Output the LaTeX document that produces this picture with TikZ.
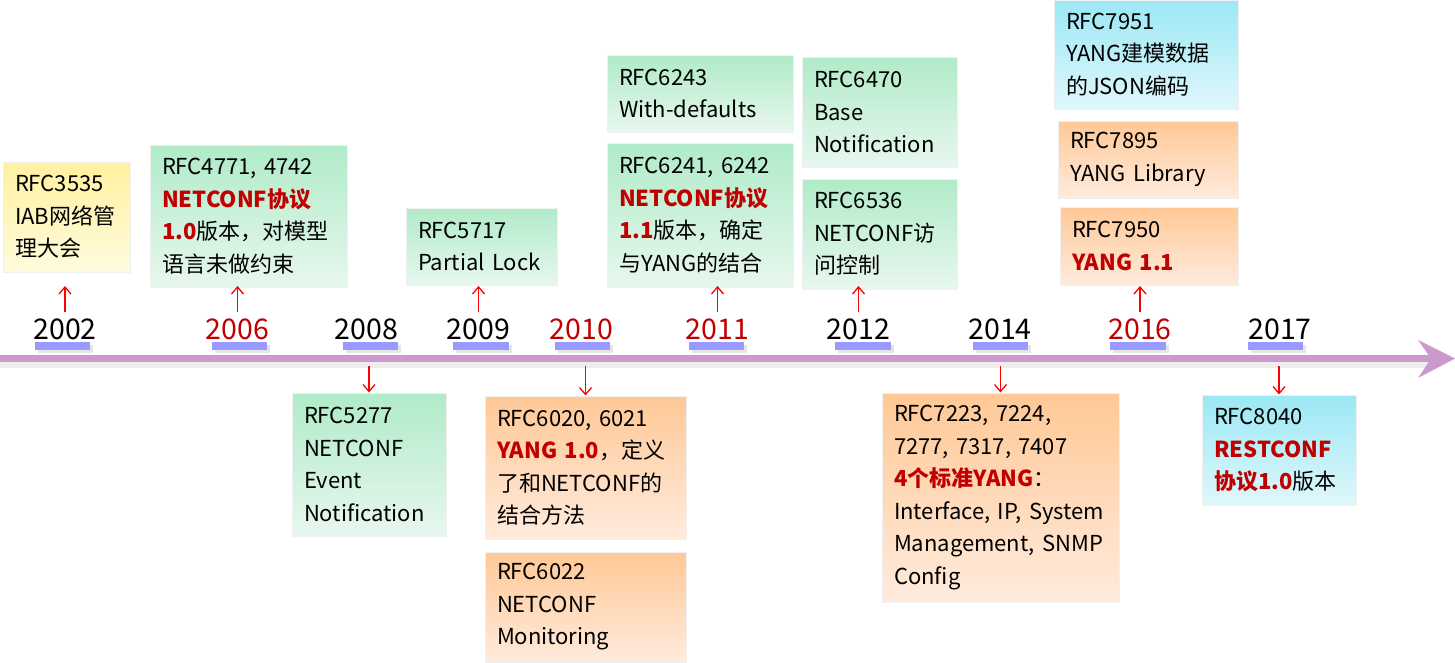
\documentclass[tikz,border=0pt]{standalone}
\usepackage{fontspec}
\setmainfont{Noto Sans CJK SC}
\usetikzlibrary{arrows.meta}
\definecolor{myred}{HTML}{C00000}
\definecolor{tlc}{HTML}{CC99CC}
\definecolor{barc}{HTML}{9999FF}
\definecolor{gtop}{HTML}{B0EBC8}
\definecolor{gbot}{HTML}{E8F7EE}
\definecolor{otop}{HTML}{FFC896}
\definecolor{obot}{HTML}{FFEBDD}
\definecolor{ctop}{HTML}{9BE8F5}
\definecolor{cbot}{HTML}{E0F7FB}
\definecolor{ytop}{HTML}{FFF1A0}
\definecolor{ybot}{HTML}{FFFBDD}
\newcommand\redb[1]{\textbf{\color{myred}#1}}
\tikzset{
  box/.style={draw=black!6, line width=1pt, inner xsep=12pt, inner ysep=0pt, align=left,
    font=\fontsize{22}{32.5}\selectfont, text=black},
  gbox/.style={box, top color=gtop, bottom color=gbot},
  obox/.style={box, top color=otop, bottom color=obot},
  cbox/.style={box, top color=ctop, bottom color=cbot},
  ybox/.style={box, top color=ytop, bottom color=ybot},
  year/.style={anchor=base, inner sep=0pt, font=\fontsize{28.5}{30}\selectfont, text=black},
  ryear/.style={year, text=myred},
  arr/.style={draw=red, line width=1.3pt, -{Straight Barb[length=7pt,width=12pt]}},
}
\begin{document}
\begin{tikzpicture}[x=1pt,y=-1pt]
\useasboundingbox (0,0) rectangle (1455,662);

% timeline
\fill[black!7] (0,362) rectangle (1432,368);
\fill[tlc] (0,355) rectangle (1432,362);
\fill[tlc] (1418,340) -- (1455,358.5) -- (1418,378) -- (1431,358.5) -- cycle;

% year bars
\foreach \a/\b in {35/90,212/267,343/398,453/509,555/610,689/744,835/891,973/1028,1110/1166,1248/1303}{
  \fill[black!10] (\a+3,345) rectangle (\b+3,353);
  \fill[barc] (\a,342) rectangle (\b,350);
}

% years
\node[year]  (y2002) at (65,339) {2002};
\node[ryear] (y2006) at (237.5,339) {2006};
\node[year]  (y2008) at (366.5,339) {2008};
\node[year]  (y2009) at (478.5,339) {2009};
\node[ryear] (y2010) at (581.5,339) {2010};
\node[ryear] (y2011) at (717.5,339) {2011};
\node[year]  (y2012) at (858.5,339) {2012};
\node[year]  (y2014) at (1000,339) {2014};
\node[ryear] (y2016) at (1140,339) {2016};
\node[year]  (y2017) at (1280,339) {2017};

% boxes above
\node[ybox, text width=103pt, minimum height=110pt] (b3535) at (66.5,217)
  {RFC3535\\IAB网络管\\理大会};
\node[gbox, text width=173pt, minimum height=142pt] (b4771) at (248.5,216)
  {RFC4771, 4742\\\redb{NETCONF协议}\\\redb{1.0}版本，对模型\\语言未做约束};
\node[gbox, text width=127pt, minimum height=77pt] (b5717) at (481.5,246.5)
  {RFC5717\\Partial Lock};
\node[gbox, text width=162pt, minimum height=77pt] (b6243) at (700,93.5)
  {RFC6243\\With-defaults};
\node[gbox, text width=162pt, minimum height=144pt] (b6241) at (700,215)
  {RFC6241, 6242\\\redb{NETCONF协议}\\\redb{1.1}版本，确定\\与YANG的结合};
\node[gbox, text width=131pt, minimum height=110pt] (b6470) at (879.5,112)
  {RFC6470\\Base\\Notification};
\node[gbox, text width=131pt, minimum height=110pt] (b6536) at (879.5,234)
  {RFC6536\\NETCONF访\\问控制};
\node[cbox, text width=160pt, minimum height=109pt] (b7951) at (1146,54.5)
  {RFC7951\\YANG建模数据\\的JSON编码};
\node[obox, text width=156pt, minimum height=77pt] (b7895) at (1148,159.5)
  {RFC7895\\YANG Library};
\node[obox, text width=154pt, minimum height=78pt] (b7950) at (1149,246)
  {RFC7950\\\redb{YANG 1.1}};

% boxes below
\node[gbox, text width=130pt, minimum height=143pt] (b5277) at (369,464.5)
  {RFC5277\\NETCONF\\Event\\Notification};
\node[obox, text width=177pt, minimum height=143pt] (b6020) at (585.5,467.5)
  {RFC6020, 6021\\\redb{YANG 1.0}，定义\\了和NETCONF的\\结合方法};
\node[obox, text width=177pt, minimum height=110pt] (b6022) at (585.5,607)
  {RFC6022\\NETCONF\\Monitoring};
\node[obox, text width=213pt, minimum height=209pt] (b7223) at (1000.5,497.5)
  {RFC7223, 7224,\\7277, 7317, 7407\\\redb{4个标准YANG}：\\Interface, IP, System\\Management, SNMP\\Config};
\node[cbox, text width=130pt, minimum height=110pt] (b8040) at (1279,450)
  {RFC8040\\\redb{RESTCONF}\\\redb{协议1.0}版本};

% connectors
\coordinate (upS) at (0,312);
\coordinate (upT) at (0,286);
\coordinate (dnS) at (0,366);
\foreach \y in {y2002,y2006,y2009,y2011,y2012,y2016}
  \draw[arr] (\y.north |- upS) -- (\y.north |- upT);
\foreach \b in {b5277,b6020,b7223,b8040}
  \draw[arr] (\b.north |- dnS) -- (\b.north);
\end{tikzpicture}
\end{document}
